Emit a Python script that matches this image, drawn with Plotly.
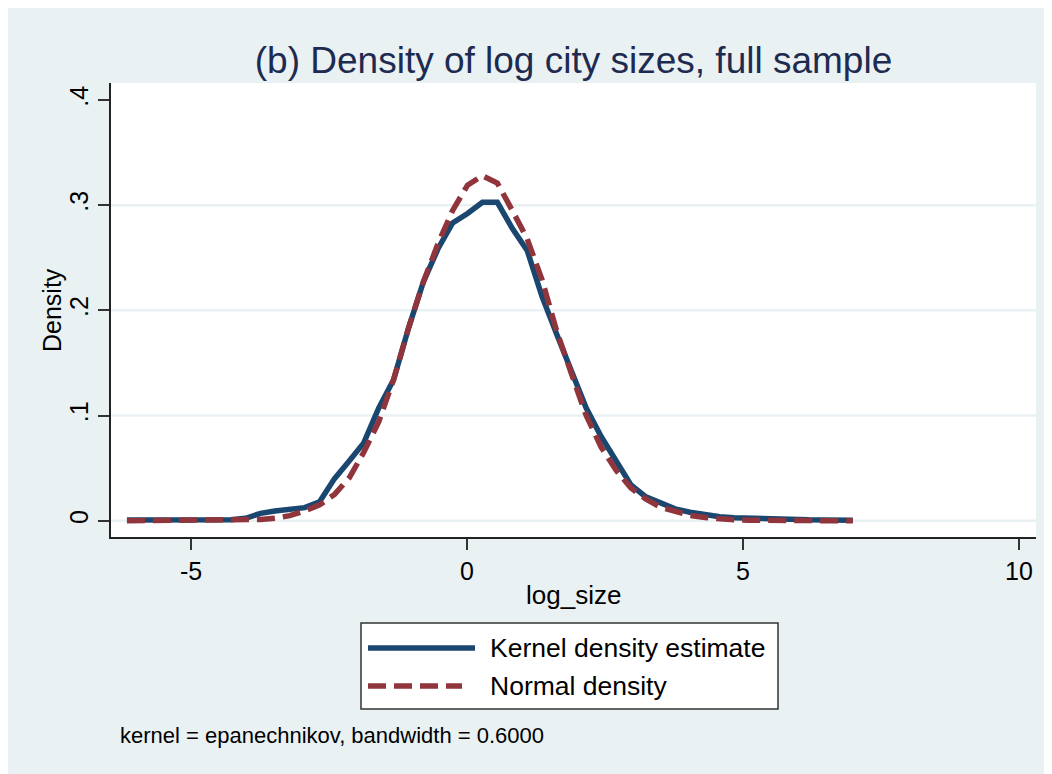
import plotly.graph_objects as go

# ---------------- data ----------------
x_vals = [-6.16, -5.89, -5.62, -5.36, -5.09, -4.82, -4.55, -4.28, -4.01, -3.74,
          -3.48, -3.21, -2.94, -2.67, -2.40, -2.13, -1.87, -1.60, -1.33, -1.06,
          -0.79, -0.52, -0.26, 0.01, 0.28, 0.55, 0.82, 1.09, 1.36, 1.62,
          1.89, 2.16, 2.43, 2.70, 2.97, 3.23, 3.50, 3.77, 4.04, 4.31,
          4.58, 4.84, 5.11, 5.38, 5.65, 5.92, 6.19, 6.46, 6.72, 6.99]

kde_vals = [0.0006, 0.0006, 0.0006, 0.0006, 0.0006, 0.0006, 0.0006, 0.0008, 0.0023, 0.0070,
            0.0092, 0.0110, 0.0124, 0.0180, 0.0400, 0.0570, 0.0740, 0.1070, 0.1340, 0.1830,
            0.2270, 0.2590, 0.2830, 0.2920, 0.3027, 0.3027, 0.2780, 0.2570, 0.2130, 0.1780,
            0.1430, 0.1070, 0.0800, 0.0560, 0.0340, 0.0230, 0.0165, 0.0112, 0.0080, 0.0054,
            0.0038, 0.0029, 0.0023, 0.0017, 0.0013, 0.0010, 0.0008, 0.0007, 0.0006, 0.0005]

normal_vals = [0.0000, 0.0000, 0.0000, 0.0000, 0.0000, 0.0000, 0.0001, 0.0002, 0.0005, 0.0012,
               0.0024, 0.0048, 0.0093, 0.0150, 0.0250, 0.0410, 0.0650, 0.0940, 0.1340, 0.1830,
               0.2270, 0.2640, 0.2950, 0.3190, 0.3280, 0.3210, 0.2950, 0.2680, 0.2290, 0.1810,
               0.1400, 0.1000, 0.0700, 0.0480, 0.0310, 0.0210, 0.0130, 0.0085, 0.0050, 0.0030,
               0.0017, 0.0009, 0.0005, 0.0002, 0.0001, 0.0000, 0.0000, 0.0000, 0.0000, 0.0000]

y_tickvals = [0, 0.1, 0.2, 0.3, 0.4]
y_ticktext = ["0", ".1", ".2", ".3", ".4"]
x_tickvals = [-5, 0, 5, 10]
x_ticktext = ["-5", "0", "5", "10"]
grid_vals = [0, 0.1, 0.2, 0.3]

series_names = ["Kernel density estimate", "Normal density"]
title_text = "(b) Density of log city sizes, full sample"
note_text = "kernel = epanechnikov, bandwidth = 0.6000"

# ---------------- style ----------------
OFF = 8                      # page body margin of the html page
W, H = 1052 - OFF, 774 - OFF
L, R, T, B = 111 - OFF, 16, 83 - OFF, 237
PW, PH = W - L - R, H - T - B
BG = "#eaf1f3"
NAVY = "#1a476f"
MAROON = "#90353b"
FONT = "Liberation Sans, Arial, sans-serif"
DASH = "18px,8px"


def px(x):
    """screen x pixel -> paper fraction"""
    return (x - OFF - L) / PW


def py(y):
    """screen y pixel -> paper fraction"""
    return (H - B - (y - OFF)) / PH


fig = go.Figure()
fig.add_trace(go.Scatter(x=x_vals, y=kde_vals, mode="lines", name=series_names[0],
                         line=dict(color=NAVY, width=5.5), showlegend=False))
fig.add_trace(go.Scatter(x=x_vals, y=normal_vals, mode="lines", name=series_names[1],
                         line=dict(color=MAROON, width=5.5, dash=DASH), showlegend=False))

shapes = []
# gridlines
for v in grid_vals:
    shapes.append(dict(type="line", xref="paper", yref="y", x0=0, x1=1, y0=v, y1=v,
                       line=dict(color=BG, width=2.5), layer="below"))
# legend box
shapes.append(dict(type="rect", xref="paper", yref="paper", x0=px(361), x1=px(778),
                   y0=py(709), y1=py(623), fillcolor="white",
                   line=dict(color="#333333", width=1.5)))
shapes.append(dict(type="line", xref="paper", yref="paper", x0=px(368), x1=px(475),
                   y0=py(648), y1=py(648), line=dict(color=NAVY, width=5.5)))
shapes.append(dict(type="line", xref="paper", yref="paper", x0=px(368), x1=px(462),
                   y0=py(686), y1=py(686), line=dict(color=MAROON, width=5.5, dash=DASH)))

annotations = [
    dict(text=series_names[0], xref="paper", yref="paper", x=px(488), y=py(648),
         xanchor="left", yanchor="middle", showarrow=False, font=dict(size=26.5, color="black")),
    dict(text=series_names[1], xref="paper", yref="paper", x=px(488), y=py(686),
         xanchor="left", yanchor="middle", showarrow=False, font=dict(size=26.5, color="black")),
    dict(text="log_size", xref="paper", yref="paper", x=0.5, y=py(595),
         xanchor="center", yanchor="middle", showarrow=False, font=dict(size=26, color="black")),
    dict(text="Density", xref="paper", yref="paper", x=px(52), y=0.5, textangle=-90,
         xanchor="center", yanchor="middle", showarrow=False, font=dict(size=25, color="black")),
    dict(text=note_text, xref="paper", yref="paper", x=px(118), y=py(735),
         xanchor="left", yanchor="middle", showarrow=False, font=dict(size=22, color="black")),
]

fig.update_layout(
    width=W, height=H,
    margin=dict(l=L, r=R, t=T, b=B, autoexpand=False),
    paper_bgcolor=BG, plot_bgcolor="white",
    font=dict(family=FONT, color="black"),
    title=dict(text=title_text, x=0.5, xref="paper", xanchor="center",
               y=1 - (60 - OFF) / H, yref="container", yanchor="middle",
               font=dict(size=37, color="#1e2b50")),
    shapes=shapes, annotations=annotations,
    showlegend=False,
    xaxis=dict(range=[-6.449, 10.308], tickvals=x_tickvals, ticktext=x_ticktext,
               showgrid=False, zeroline=False, showline=True, linecolor="#222222", linewidth=1.5,
               ticks="outside", ticklen=11, tickwidth=1.5, tickcolor="#333333",
               tickfont=dict(size=25, color="black"), automargin=False),
    yaxis=dict(range=[-0.0155, 0.4161], tickvals=y_tickvals, ticktext=y_ticktext,
               showgrid=False, zeroline=False, showline=True, linecolor="#222222", linewidth=1.5,
               ticks="outside", ticklen=11, tickwidth=1.5, tickcolor="#333333", tickangle=-90,
               tickfont=dict(size=25, color="black"), automargin=False),
)

fig.write_html("out.html")
